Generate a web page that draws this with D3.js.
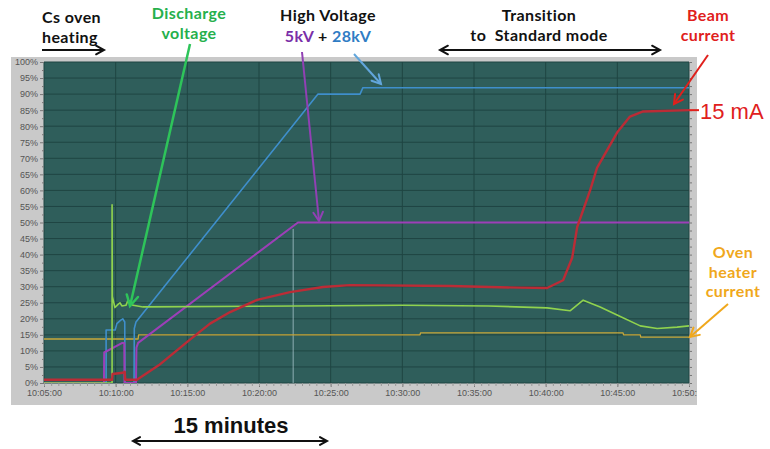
<!DOCTYPE html>
<html>
<head>
<meta charset="utf-8">
<script src="https://cdnjs.cloudflare.com/ajax/libs/d3/7.8.5/d3.min.js"></script>
<style>
body { margin: 0; background: #fff; }
.ann { font-family: Lato, "Open Sans", sans-serif; font-weight: bold; font-size: 16px; letter-spacing: 0.4px; white-space: pre; }
.tick text { font-family: "Liberation Sans", Arial, sans-serif; font-size: 9px; fill: #555; }
</style>
</head>
<body>
<div id="chart"></div>
<script>
// series: [time, percent of full scale]
var hv28kV = [["10:05:00",0],["10:09:20",0],["10:09:20",16.5],["10:09:58",16.5],["10:10:05",18.5],["10:10:20",19.5],
    ["10:10:30",20],["10:10:38",19],["10:10:39",0],["10:11:17",0],["10:11:18",17],["10:11:25",19],
    ["10:24:07",90],["10:27:03",90],["10:27:15",92],["10:50:00",92]];
var hv5kV = [["10:05:00",0],["10:09:11",0],["10:09:12",9.5],["10:10:28",12.5],["10:10:36",12.5],["10:10:37",0],
    ["10:11:25",0],["10:11:27",11],["10:11:34",12.5],["10:22:43",50],["10:50:00",50]];
var beamCurrent = [["10:05:00",1],["10:09:45",1],["10:09:47",2.8],["10:10:30",3.2],["10:10:38",3.5],["10:10:40",1],
    ["10:11:29",1],["10:13:00",5.5],["10:15:11",13.5],["10:16:35",18.5],["10:17:59",22.1],["10:19:52",25.9],
    ["10:22:10",28.3],["10:24:28",29.9],["10:26:21",30.5],["10:33:20",30.2],["10:38:13",29.7],["10:40:06",29.6],
    ["10:41:13",32],["10:41:51",39],["10:42:12",48.6],["10:43:06",60],["10:43:35",67],["10:44:59",78],
    ["10:45:53",83],["10:46:48",84.6],["10:50:00",85]];
var dischargeVoltage = [["10:05:00",0],["10:09:45",0],["10:09:45",55.5],["10:09:46",27],["10:09:57",23.5],
    ["10:10:10",24.5],["10:10:18",25],["10:10:26",24],["10:10:43",24.2],["10:10:52",25.8],["10:11:13",24.2],
    ["10:11:55",23.7],["10:20:00",23.9],["10:30:00",24.2],["10:36:00",24],["10:40:06",23.4],["10:41:42",22.5],
    ["10:42:37",25.8],["10:43:48",23.7],["10:44:59",21.2],["10:46:36",17.8],["10:47:47",17],["10:49:10",17.4],
    ["10:50:00",17.8]];
var ovenCurrent = [["10:05:00",13.7],["10:11:34",13.7],["10:11:36",15],["10:31:14",15],["10:31:16",15.6],
    ["10:45:24",15.6],["10:45:26",15],["10:46:36",15],["10:46:38",14.3],["10:50:00",14.3]];
var glitch = [["10:22:23",0],["10:22:23",48]];

var timeDomain = ["10:05:00", "10:50:00"];
var yTicks = d3.range(0, 101, 5);

//measurements
var width = 770, height = 449;
var plot = { left: 44, right: 689, top: 62, bottom: 383 };
var parse = d3.timeParse("%H:%M:%S");

var x = d3.scaleTime().domain(timeDomain.map(parse)).range([plot.left, plot.right]);
var y = d3.scaleLinear().domain([0, 100]).range([plot.bottom, plot.top]);

var svg = d3.select("#chart").append("svg")
    .attr("width", width)
    .attr("height", height);

svg.append("defs").append("clipPath").attr("id", "plotclip")
    .append("rect").attr("x", plot.left).attr("y", plot.top)
    .attr("width", plot.right - plot.left).attr("height", plot.bottom - plot.top);
svg.select("defs").append("clipPath").attr("id", "frameclip")
    .append("rect").attr("x", 11).attr("y", 57).attr("width", 686).attr("height", 348);

// grey frame + plot background
svg.append("rect").attr("x", 11).attr("y", 57).attr("width", 686).attr("height", 348).attr("fill", "#c9c9c9");
svg.append("rect").attr("x", plot.left).attr("y", plot.top)
    .attr("width", plot.right - plot.left).attr("height", plot.bottom - plot.top)
    .attr("fill", "#2f5e5b");

// gridlines
var fiveMin = d3.timeMinute.every(5).range(x.domain()[0], d3.timeSecond.offset(x.domain()[1], 1));
svg.append("g").selectAll("line").data(yTicks).enter().append("line")
    .attr("x1", plot.left).attr("x2", plot.right)
    .attr("y1", function(d) { return y(d); }).attr("y2", function(d) { return y(d); })
    .attr("stroke", "#1f4543").attr("stroke-width", 1);
svg.append("g").selectAll("line").data(fiveMin).enter().append("line")
    .attr("y1", plot.top).attr("y2", plot.bottom)
    .attr("x1", function(d) { return x(d); }).attr("x2", function(d) { return x(d); })
    .attr("stroke", "#1f4543").attr("stroke-width", 1);

// axes
function styleAxis(g) {
    g.select(".domain").remove();
    g.selectAll(".tick line").attr("stroke", "#777");
}
var axes = svg.append("g").attr("clip-path", "url(#frameclip)");
axes.append("g").attr("transform", "translate(" + plot.left + ",0)")
    .call(d3.axisLeft(y).tickValues(yTicks).tickSize(4).tickPadding(2).tickFormat(function(d) { return d + "%"; }))
    .call(styleAxis);
axes.append("g").attr("transform", "translate(" + plot.left + ",0)")
    .call(d3.axisLeft(y).tickValues(d3.range(2.5, 100, 5)).tickSize(2).tickFormat(""))
    .call(styleAxis);
axes.append("g").attr("transform", "translate(" + plot.right + ",0)")
    .call(d3.axisRight(y).tickValues(d3.range(0, 101, 2.5)).tickSize(3).tickFormat(""))
    .call(styleAxis);
axes.append("g").attr("transform", "translate(0," + plot.bottom + ")")
    .call(d3.axisBottom(x).tickValues(fiveMin).tickSize(4).tickPadding(3).tickFormat(d3.timeFormat("%H:%M:%S")))
    .call(styleAxis);
axes.append("g").attr("transform", "translate(0," + plot.bottom + ")")
    .call(d3.axisBottom(x).ticks(d3.timeSecond.every(30)).tickSize(3).tickFormat(""))
    .call(styleAxis)
    .selectAll(".tick line").attr("stroke", "#999");

// series
var line = d3.line()
    .x(function(d) { return x(parse(d[0])); })
    .y(function(d) { return y(d[1]); });
var lines = svg.append("g").attr("clip-path", "url(#plotclip)");
function drawSeries(data, color, w, op) {
    lines.append("path").datum(data)
        .attr("fill", "none")
        .attr("stroke", color)
        .attr("stroke-width", w)
        .attr("stroke-opacity", op || 1)
        .attr("stroke-linejoin", "round")
        .attr("d", line);
}
drawSeries(glitch, "#cfe6ee", 1, 0.6);
drawSeries(ovenCurrent, "#c9a83a", 1.3);
drawSeries(hv28kV, "#3f8fcc", 1.6);
drawSeries(hv5kV, "#9d3fb8", 2);
drawSeries(dischargeVoltage, "#90d34e", 1.6);
drawSeries(beamCurrent, "#bb2c36", 2.4);

// annotations
var ann = svg.append("g");
function arrow(x1, y1, x2, y2, color, w, head, both) {
    ann.append("line").attr("x1", x1).attr("y1", y1).attr("x2", x2).attr("y2", y2)
        .attr("stroke", color).attr("stroke-width", w);
    function tip(ax, ay, bx, by) {
        var a = Math.atan2(by - ay, bx - ax), s = 0.5;
        var p = [[bx - head * Math.cos(a - s), by - head * Math.sin(a - s)], [bx, by],
                 [bx - head * Math.cos(a + s), by - head * Math.sin(a + s)]];
        ann.append("polyline").attr("points", p.join(" "))
            .attr("fill", "none").attr("stroke", color).attr("stroke-width", w)
            .attr("stroke-linejoin", "miter").attr("stroke-linecap", "round");
    }
    tip(x1, y1, x2, y2);
    if (both) tip(x2, y2, x1, y1);
}
// multi-line label as one text element with tspans
function label(rows, cx, y0, dy, color, anchor) {
    var t = ann.append("text").attr("class", "ann")
        .attr("x", cx).attr("y", y0)
        .attr("text-anchor", anchor || "middle")
        .attr("fill", color);
    rows.forEach(function(r, i) {
        t.append("tspan").attr("x", cx).attr("dy", i ? dy : 0).text(r);
    });
    return t;
}

label(["Cs oven", "heating"], 42, 23, 19.5, "#111", "start");
arrow(42, 50, 104, 50, "#111", 2, 9);

label(["Discharge", "voltage"], 189, 19, 19.5, "#25b04c");
arrow(190, 44, 130, 306, "#2ec45a", 2.5, 12);

var hv = label(["High Voltage"], 328, 21, 0, "#111");
var hv2 = hv.append("tspan").attr("x", 328).attr("dy", 21);
hv2.append("tspan").attr("fill", "#7a2fa8").text("5kV");
hv2.append("tspan").attr("fill", "#111").text(" + ");
hv2.append("tspan").attr("fill", "#2f7cc4").text("28kV");
arrow(302, 52, 319, 221, "#9140b4", 2, 10);
arrow(354, 54, 381, 84, "#62a6dc", 2, 10);

label(["Transition", "to  Standard mode"], 539, 21, 19.5, "#111");
arrow(440, 50, 660, 50, "#111", 2, 9, true);

label(["Beam", "current"], 708, 21, 19.5, "#e0201c");
arrow(708, 55, 674, 104, "#e0201c", 2, 10);

ann.append("line").attr("x1", plot.right).attr("x2", 699)
    .attr("y1", y(85)).attr("y2", y(85)).attr("stroke", "#e0201c").attr("stroke-width", 2);
ann.append("text").attr("x", 700).attr("y", y(85) + 9)
    .attr("font-family", "'Liberation Sans', Arial, sans-serif").attr("font-size", 22)
    .attr("fill", "#e0201c").text("15 mA");

label(["Oven", "heater", "current"], 733, 258, 19.5, "#f0a81c");
arrow(728, 304, 690, 337, "#f0a81c", 2, 10);

ann.append("text").attr("x", 231).attr("y", 433).attr("text-anchor", "middle")
    .attr("font-family", "'Liberation Sans', Arial, sans-serif").attr("font-weight", "bold")
    .attr("font-size", 22).attr("fill", "#111").text("15 minutes");
arrow(133, 441, 327, 441, "#111", 2, 8, true);
</script>
</body>
</html>
